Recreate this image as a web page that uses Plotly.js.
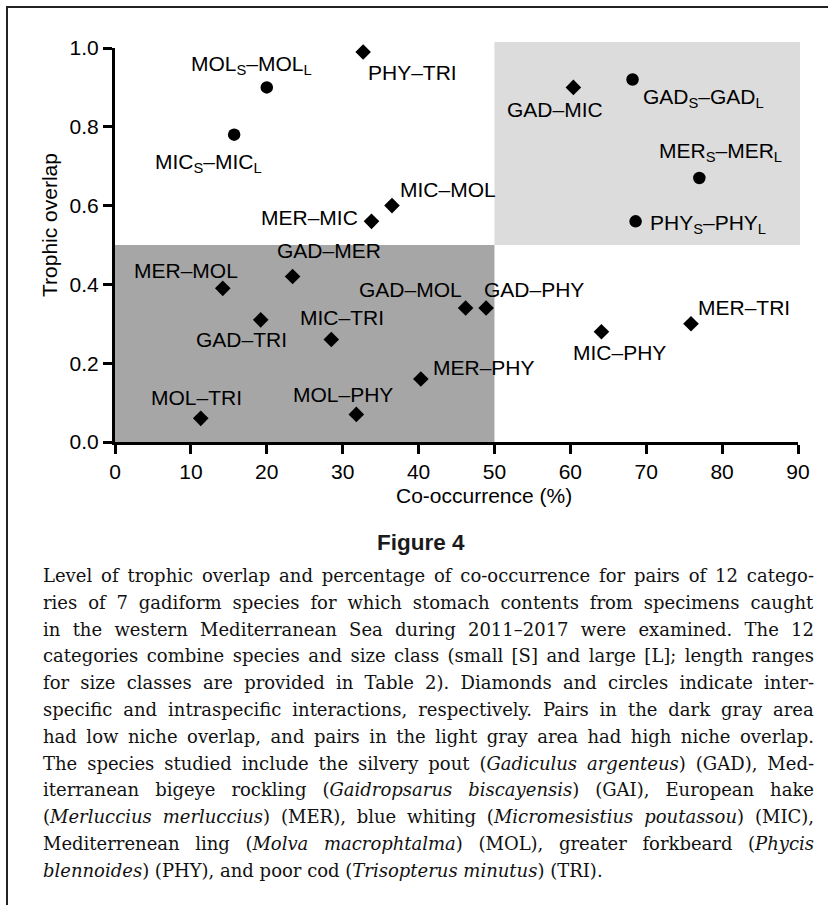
<!DOCTYPE html>
<html>
<head>
<meta charset="utf-8">
<script src="https://cdn.plot.ly/plotly-3.0.1.min.js"></script>
<style>
  html, body { margin: 0; padding: 0; background: #fff; }
  #chart { width: 828px; height: 905px; }
</style>
</head>
<body>
<div id="chart"></div>
<script>
// ---- data ----
const pairs = ['PHY–TRI','MOL<sub>S</sub>–MOL<sub>L</sub>','MIC<sub>S</sub>–MIC<sub>L</sub>','MER–MIC','MIC–MOL',
  'GAD–MER','MER–MOL','GAD–TRI','MIC–TRI','MOL–TRI','MOL–PHY','MER–PHY','GAD–MOL','GAD–PHY',
  'MIC–PHY','MER–TRI','GAD–MIC','GAD<sub>S</sub>–GAD<sub>L</sub>','MER<sub>S</sub>–MER<sub>L</sub>','PHY<sub>S</sub>–PHY<sub>L</sub>'];
const coOccurrence = [32.7, 20.0, 15.7, 33.8, 36.5, 23.4, 14.2, 19.2, 28.5, 11.3, 31.8, 40.3, 46.2, 48.9, 64.1, 75.9, 60.4, 68.2, 77.0, 68.6];
const trophicOverlap = [0.99, 0.90, 0.78, 0.56, 0.60, 0.42, 0.39, 0.31, 0.26, 0.06, 0.07, 0.16, 0.34, 0.34, 0.28, 0.30, 0.90, 0.92, 0.67, 0.56];
const interactionType = ['inter','intra','intra','inter','inter','inter','inter','inter','inter','inter','inter','inter','inter','inter','inter','inter','inter','intra','intra','intra'];
const xTicks = [0, 10, 20, 30, 40, 50, 60, 70, 80, 90];
const yTicks = [0.0, 0.2, 0.4, 0.6, 0.8, 1.0];
const lowOverlapArea = {x: [0, 50], y: [0, 0.5]};
const highOverlapArea = {x: [50, 90], y: [0.5, 1.0]};
const figureLabel = 'Figure 4';
const xTitle = 'Co-occurrence (%)';
const yTitle = 'Trophic overlap';
const captionLines = [
  'Level of trophic overlap and percentage of co-occurrence for pairs of 12 catego-',
  'ries of 7 gadiform species for which stomach contents from specimens caught',
  'in the western Mediterranean Sea during 2011–2017 were examined. The 12',
  'categories combine species and size class (small [S] and large [L]; length ranges',
  'for size classes are provided in Table 2). Diamonds and circles indicate inter-',
  'specific and intraspecific interactions, respectively. Pairs in the dark gray area',
  'had low niche overlap, and pairs in the light gray area had high niche overlap.',
  'The species studied include the silvery pout (<i>Gadiculus argenteus</i>) (GAD), Med-',
  'iterranean bigeye rockling (<i>Gaidropsarus biscayensis</i>) (GAI), European hake',
  '(<i>Merluccius merluccius</i>) (MER), blue whiting (<i>Micromesistius poutassou</i>) (MIC),',
  'Mediterrenean ling (<i>Molva macrophtalma</i>) (MOL), greater forkbeard (<i>Phycis</i>',
  '<i>blennoides</i>) (PHY), and poor cod (<i>Trisopterus minutus</i>) (TRI).'
];

// ---- label placement (style, in px offsets from each point) ----
const labelPlacement = [
  ['left', 3, -21], ['center', -15, 22], ['center', -26, -28], ['right', -12, 4], ['left', 6, 16],
  ['center', 36, 26], ['center', -37, 18], ['center', -19, -20], ['center', 11, 22], ['center', -4, 21],
  ['center', -13, 20], ['left', 10, 11], ['right', -2, 19], ['left', -4, 19],
  ['center', 18, -21], ['left', 5, 16], ['center', -18, -22], ['left', 8, -18], ['center', 21, 26], ['left', 12, -3]
];

const W = 828, H = 905;
const M = {l: 115, r: 30, t: 48, b: 463};
const PW = W - M.l - M.r, PH = H - M.t - M.b;
const pxX = px => (px - M.l) / PW;      // pixel -> paper
const pxY = py => (H - M.b - py) / PH;
const xr = [xTicks[0], xTicks[xTicks.length - 1]];
const yr = [yTicks[0], yTicks[yTicks.length - 1]];
const dX = v => (v - xr[0]) / (xr[1] - xr[0]);  // data -> paper
const dY = v => (v - yr[0]) / (yr[1] - yr[0]);

const FONT = 'Liberation Sans, Arial, Helvetica, sans-serif';
const SERIF = 'DejaVu Serif, serif';
const CAP = {left: 41, width: 771, firstMid: 575.4, step: 26.8, size: 18};

function subset(type) {
  const idx = interactionType.map((t, i) => t === type ? i : -1).filter(i => i >= 0);
  return {x: idx.map(i => coOccurrence[i]), y: idx.map(i => trophicOverlap[i])};
}
const inter = subset('inter'), intra = subset('intra');

const traces = [
  {type: 'scatter', mode: 'markers', name: 'Interspecific', x: inter.x, y: inter.y,
   marker: {symbol: 'diamond', size: 12, color: '#000'}, cliponaxis: false, hoverinfo: 'x+y'},
  {type: 'scatter', mode: 'markers', name: 'Intraspecific', x: intra.x, y: intra.y,
   marker: {symbol: 'circle', size: 12.5, color: '#000'}, cliponaxis: false, hoverinfo: 'x+y'}
];

const annotations = pairs.map((p, i) => ({
  x: coOccurrence[i], y: trophicOverlap[i], xref: 'x', yref: 'y', text: p, showarrow: false,
  xanchor: labelPlacement[i][0], yanchor: 'middle', xshift: labelPlacement[i][1], yshift: labelPlacement[i][2],
  font: {family: FONT, size: 21, color: '#000'}
}));
annotations.push(
  {text: xTitle, xref: 'paper', yref: 'paper', x: pxX(484), y: pxY(495), showarrow: false,
   xanchor: 'center', yanchor: 'middle', font: {family: FONT, size: 21, color: '#000'}},
  {text: yTitle, xref: 'paper', yref: 'paper', x: pxX(50), y: pxY(225), showarrow: false, textangle: -90,
   xanchor: 'center', yanchor: 'middle', font: {family: FONT, size: 21, color: '#000'}},
  {text: '<b>' + figureLabel + '</b>', xref: 'paper', yref: 'paper', x: pxX(421), y: pxY(542), showarrow: false,
   xanchor: 'center', yanchor: 'middle', font: {family: FONT, size: 22.5, color: '#1a1a1a'}}
);
const captionStart = annotations.length;
captionLines.forEach((l, i) => annotations.push({
  text: l, xref: 'paper', yref: 'paper', x: pxX(CAP.left), y: pxY(CAP.firstMid + i * CAP.step),
  xanchor: 'left', yanchor: 'middle', align: 'left', showarrow: false,
  font: {family: SERIF, size: CAP.size, color: '#111'}
}));

const shapes = [
  {type: 'rect', xref: 'paper', yref: 'paper', layer: 'below', line: {width: 0}, fillcolor: '#a6a6a6',
   x0: dX(lowOverlapArea.x[0]), x1: dX(lowOverlapArea.x[1]), y0: dY(lowOverlapArea.y[0]), y1: dY(lowOverlapArea.y[1])},
  {type: 'rect', xref: 'paper', yref: 'paper', layer: 'below', line: {width: 0}, fillcolor: '#dcdcdc',
   x0: dX(highOverlapArea.x[0]), x1: dX(highOverlapArea.x[1]) + 2 / PW, y0: dY(highOverlapArea.y[0]), y1: dY(highOverlapArea.y[1]) + 6 / PH},
  // page frame: top and left rules
  {type: 'line', xref: 'paper', yref: 'paper', line: {width: 2, color: '#222'}, x0: pxX(6), x1: pxX(830), y0: pxY(7), y1: pxY(7)},
  {type: 'line', xref: 'paper', yref: 'paper', line: {width: 2, color: '#222'}, x0: pxX(7), x1: pxX(7), y0: pxY(6), y1: pxY(910)}
];

const axisCommon = {
  showgrid: false, zeroline: false, showline: true, linecolor: '#000', linewidth: 3,
  ticks: 'outside', ticklen: 9, tickwidth: 3, tickcolor: '#000',
  tickfont: {family: FONT, size: 21, color: '#000'}, fixedrange: true
};

const layout = {
  width: W, height: H, margin: M, showlegend: false,
  paper_bgcolor: '#fff', plot_bgcolor: 'rgba(0,0,0,0)',
  xaxis: Object.assign({}, axisCommon, {range: xr, tickvals: xTicks, ticktext: xTicks.map(String)}),
  yaxis: Object.assign({}, axisCommon, {range: yr, tickvals: yTicks, ticktext: yTicks.map(v => v.toFixed(1))}),
  shapes: shapes, annotations: annotations
};

Plotly.newPlot('chart', traces, layout, {displayModeBar: false, staticPlot: true}).then(gd => {
  // justify every caption line except the last by spreading the word spaces
  captionLines.forEach((l, i) => {
    if (i === captionLines.length - 1) return;
    const t = gd.querySelector('.annotation[data-index="' + (captionStart + i) + '"] text.annotation-text');
    if (!t) return;
    const w = t.getBBox().width;
    const n = (t.textContent.match(/[ \u00a0]/g) || []).length;
    if (n && w < CAP.width) t.style.wordSpacing = ((CAP.width - w) / n) + 'px';
  });
});
</script>
</body>
</html>
